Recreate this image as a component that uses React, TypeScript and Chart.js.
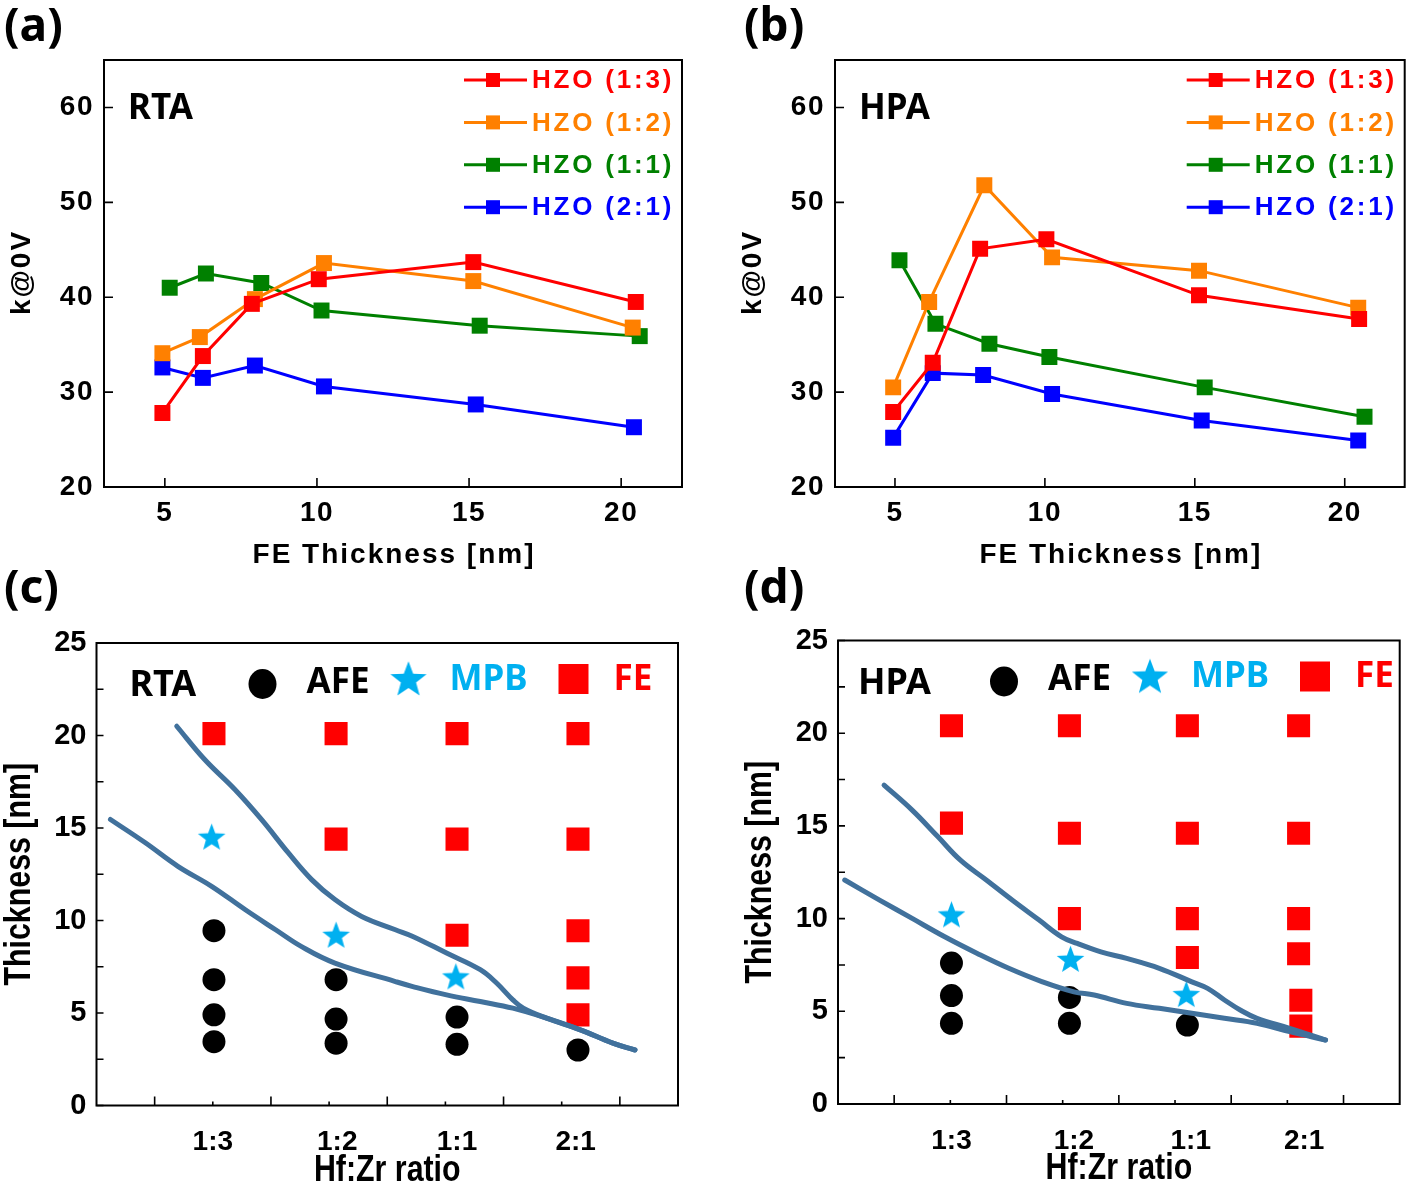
import React, { useEffect, useRef } from 'react';
import { Chart, registerables } from 'chart.js';

Chart.register(...registerables);

// ---------------- shared ----------------
const seriesLabels = ['HZO (1:3)', 'HZO (1:2)', 'HZO (1:1)', 'HZO (2:1)'];
const seriesColors = ['#ff0000', '#ff8000', '#008000', '#0000ff'];
const kTicks = [20, 30, 40, 50, 60];
const thickTicks = [5, 10, 15, 20];

// ---------------- (a) RTA : k@0V vs FE thickness ----------------
const rta13X = [4.92, 6.25, 7.86, 10.06, 15.14, 20.48];
const rta13K = [27.8, 33.8, 39.3, 41.9, 43.7, 39.5];
const rta12X = [4.92, 6.15, 7.96, 10.23, 15.14, 20.38];
const rta12K = [34.1, 35.8, 39.8, 43.6, 41.7, 36.8];
const rta11X = [5.16, 6.35, 8.17, 10.15, 15.35, 20.61];
const rta11K = [41.0, 42.5, 41.5, 38.6, 37.0, 35.9];
const rta21X = [4.92, 6.25, 7.96, 10.23, 15.22, 20.42];
const rta21K = [32.6, 31.5, 32.8, 30.6, 28.7, 26.3];

// ---------------- (b) HPA : k@0V vs FE thickness ----------------
const hpa13X = [4.94, 6.26, 7.84, 10.05, 15.14, 20.48];
const hpa13K = [27.9, 33.1, 45.1, 46.1, 40.2, 37.7];
const hpa12X = [4.94, 6.14, 7.98, 10.24, 15.14, 20.45];
const hpa12K = [30.5, 39.5, 51.8, 44.2, 42.8, 38.9];
const hpa11X = [5.15, 6.35, 8.15, 10.15, 15.33, 20.66];
const hpa11K = [43.9, 37.2, 35.1, 33.7, 30.5, 27.4];
const hpa21X = [4.94, 6.26, 7.94, 10.24, 15.23, 20.45];
const hpa21K = [25.2, 32.0, 31.8, 29.8, 27.0, 24.9];

// ---------------- (c)/(d) phase maps ----------------
const ratioLabels = ['1:3', '1:2', '1:1', '2:1'];
const thicknessTicks = [0, 5, 10, 15, 20, 25];
const thicknessMinor = [2.5, 7.5, 12.5, 17.5, 22.5];
const ratioMajor = [0.5, 1.5, 2.5, 3.5, 4.5];
const ratioMinor = [1, 2, 3, 4];

// (c) RTA
const rtaLabelPos = [1.0, 2.07, 3.1, 4.12];
const rtaAfeX = [1.01, 1.01, 1.01, 1.01, 2.06, 2.06, 2.06, 3.1, 3.1, 4.14];
const rtaAfeY = [9.45, 6.8, 4.9, 3.45, 6.8, 4.67, 3.37, 4.78, 3.31, 3.0];
const rtaMpbX = [0.99, 2.06, 3.09];
const rtaMpbY = [14.5, 9.2, 6.95];
const rtaFeX = [1.01, 2.06, 2.06, 3.1, 3.1, 3.1, 4.14, 4.14, 4.14, 4.14, 4.14];
const rtaFeY = [20.1, 20.1, 14.4, 20.1, 14.4, 9.2, 20.1, 14.4, 9.45, 6.9, 4.9];
const rtaUpperX = [0.69, 0.93, 1.19, 1.42, 1.65, 1.85, 2.05, 2.28, 2.57, 2.72, 3.01, 3.3, 3.44, 3.58, 3.67, 3.87, 4.16, 4.44, 4.63];
const rtaUpperY = [20.5, 18.7, 17.08, 15.45, 13.65, 12.21, 11.13, 10.22, 9.5, 9.14, 8.24, 7.34, 6.62, 5.71, 5.26, 4.72, 4.09, 3.37, 3.0];
const rtaLowerX = [0.12, 0.42, 0.7, 0.99, 1.28, 1.54, 1.76, 2.05, 2.57, 2.72, 3.01, 3.3, 3.58, 3.87, 4.16, 4.44, 4.63];
const rtaLowerY = [15.46, 14.2, 12.93, 11.85, 10.58, 9.5, 8.6, 7.7, 6.7, 6.43, 5.98, 5.62, 5.26, 4.72, 4.09, 3.37, 3.0];

// (d) HPA
const hpaLabelPos = [1.01, 2.1, 3.14, 4.15];
const hpaAfeX = [1.01, 1.01, 1.01, 2.06, 2.06, 3.11];
const hpaAfeY = [7.6, 5.85, 4.35, 5.75, 4.35, 4.26];
const hpaMpbX = [1.01, 2.07, 3.1];
const hpaMpbY = [10.2, 7.8, 5.9];
const hpaFeX = [1.01, 1.01, 2.06, 2.06, 2.06, 3.11, 3.11, 3.11, 3.11, 4.1, 4.1, 4.1, 4.1, 4.12, 4.12];
const hpaFeY = [20.4, 15.15, 20.4, 14.6, 10.0, 20.4, 14.6, 10.0, 7.9, 20.4, 14.6, 10.0, 8.1, 5.6, 4.2];
const hpaUpperX = [0.41, 0.66, 0.89, 1.09, 1.32, 1.55, 1.79, 1.99, 2.13, 2.34, 2.57, 2.86, 3.15, 3.29, 3.44, 3.58, 3.73, 4.02, 4.34];
const hpaUpperY = [17.2, 15.85, 14.41, 13.15, 12.08, 11.0, 9.92, 9.02, 8.66, 8.21, 7.85, 7.32, 6.59, 6.24, 5.61, 5.07, 4.62, 4.08, 3.45];
const hpaLowerX = [0.06, 0.37, 0.66, 0.95, 1.24, 1.52, 1.82, 2.1, 2.28, 2.57, 2.86, 3.15, 3.44, 3.73, 4.02, 4.34];
const hpaLowerY = [12.08, 11.0, 10.01, 9.02, 8.12, 7.32, 6.59, 6.05, 5.88, 5.43, 5.16, 4.89, 4.62, 4.35, 3.9, 3.45];

// ---------------- styling ----------------
const MPB_COLOR = '#00b0f0';
const FE_COLOR = '#ff0000';
const CURVE_COLOR = '#41719c';
const W = 708;

const pts = (xs: number[], ys: number[]) => xs.map((x, i) => ({ x, y: ys[i] }));

function makeStar(size: number, color: string) {
  const c = document.createElement('canvas');
  c.width = size;
  c.height = size;
  const g = c.getContext('2d')!;
  const R = size / 2;
  const r = R * 0.42;
  const cx = size / 2;
  const cy = size / 2 + R * 0.06;
  g.beginPath();
  for (let i = 0; i < 10; i++) {
    const ang = -Math.PI / 2 + (i * Math.PI) / 5;
    const rad = i % 2 === 0 ? R : r;
    g.lineTo(cx + rad * Math.cos(ang), cy + rad * Math.sin(ang));
  }
  g.closePath();
  g.fillStyle = color;
  g.fill();
  return c;
}

type Area = { l: number; t: number; r: number; b: number };

type Deco = {
  letter: string;
  letterPos: [number, number];
  xTitle: string;
  yTitle: string;
  xTitleDy: number;
  yTitleDx: number;
  titleFont: string;
  titleSpacing: number;
  titleSx: number;
  tickSpacing: number;
  yMajor: number[];
  yMinor: number[];
  xMajor: number[];
  xMinor: number[];
  yLen: number;
  xMajorLen: number;
  xMinorLen: number;
  extra: (chart: any) => void;
};

function decoPlugin(d: Deco) {
  return {
    id: 'deco',
    beforeDraw(chart: any) {
      chart.ctx.letterSpacing = d.tickSpacing + 'px';
    },
    afterDraw(chart: any) {
      const { ctx, chartArea: a, scales } = chart;
      ctx.save();
      ctx.letterSpacing = '0px';
      ctx.strokeStyle = '#000';
      ctx.lineWidth = 2;
      ctx.strokeRect(a.left, a.top, a.right - a.left, a.bottom - a.top);
      ctx.lineWidth = 1.6;
      ctx.beginPath();
      [...d.yMajor, ...d.yMinor].forEach((v) => {
        const p = scales.y.getPixelForValue(v);
        ctx.moveTo(a.left, p);
        ctx.lineTo(a.left + d.yLen, p);
      });
      d.xMajor.forEach((v) => {
        const p = scales.x.getPixelForValue(v);
        ctx.moveTo(p, a.bottom);
        ctx.lineTo(p, a.bottom - d.xMajorLen);
      });
      d.xMinor.forEach((v) => {
        const p = scales.x.getPixelForValue(v);
        ctx.moveTo(p, a.bottom);
        ctx.lineTo(p, a.bottom - d.xMinorLen);
      });
      ctx.stroke();

      ctx.fillStyle = '#000';
      ctx.font = d.titleFont;
      ctx.letterSpacing = d.titleSpacing + 'px';
      ctx.textAlign = 'center';
      ctx.textBaseline = 'middle';
      ctx.save();
      ctx.translate((a.left + a.right) / 2 + d.titleSpacing / 2, a.bottom + d.xTitleDy);
      ctx.scale(d.titleSx, 1);
      ctx.fillText(d.xTitle, 0, 0);
      ctx.restore();
      ctx.save();
      ctx.translate(a.left - d.yTitleDx, (a.top + a.bottom) / 2);
      ctx.rotate(-Math.PI / 2);
      ctx.scale(d.titleSx, 1);
      ctx.fillText(d.yTitle, d.titleSpacing / 2, 0);
      ctx.restore();

      ctx.letterSpacing = '0px';
      ctx.font = 'bold 46px "Noto Sans"';
      ctx.textAlign = 'left';
      ctx.fillText(d.letter, d.letterPos[0], d.letterPos[1]);
      d.extra(chart);
      ctx.restore();
    },
  };
}

function lineLegend(tag: string) {
  return (chart: any) => {
    const { ctx, chartArea: a } = chart;
    ctx.save();
    ctx.textAlign = 'left';
    ctx.textBaseline = 'middle';
    ctx.fillStyle = '#000';
    ctx.letterSpacing = '0px';
    ctx.font = 'bold 35px "Noto Sans"';
    ctx.fillText(tag, a.left + 24, a.top + 49);
    seriesLabels.forEach((lab, i) => {
      const y = a.top + 20 + i * 42.4;
      ctx.strokeStyle = seriesColors[i];
      ctx.lineWidth = 3;
      ctx.beginPath();
      ctx.moveTo(a.right - 218, y);
      ctx.lineTo(a.right - 155, y);
      ctx.stroke();
      ctx.fillStyle = seriesColors[i];
      ctx.fillRect(a.right - 196, y - 7, 14, 14);
      ctx.font = 'bold 26px "Liberation Sans"';
      ctx.letterSpacing = '2.8px';
      ctx.fillText(lab, a.right - 150, y + 1);
      ctx.letterSpacing = '0px';
    });
    ctx.restore();
  };
}

function phaseLegend(tag: string, tagDx: number, star: HTMLCanvasElement) {
  return (chart: any) => {
    const { ctx, chartArea: a } = chart;
    const L = a.left;
    const T = a.top;
    ctx.save();
    ctx.textAlign = 'left';
    ctx.textBaseline = 'middle';
    ctx.letterSpacing = '0px';
    ctx.font = 'bold 36px "Noto Sans"';
    ctx.fillStyle = '#000';
    ctx.fillText(tag, L + tagDx, T + 43);
    ctx.font = 'bold 35px "Noto Sans"';
    ctx.beginPath();
    ctx.ellipse(L + 166, T + 41, 14, 15, 0, 0, Math.PI * 2);
    ctx.fill();
    ctx.fillText('AFE', L + 210, T + 40);
    ctx.drawImage(star, L + 312 - star.width / 2, T + 36 - star.height / 2);
    ctx.fillStyle = MPB_COLOR;
    ctx.fillText('MPB', L + 353, T + 37);
    ctx.fillStyle = FE_COLOR;
    ctx.fillRect(L + 477 - 15, T + 36 - 15, 30, 30);
    ctx.fillText('FE', L + 517, T + 37);
    ctx.restore();
  };
}

const kFont = { family: '"Liberation Sans", Arial', weight: 'bold' as const, size: 28 };

function lineConfig(xsArr: number[][], ysArr: number[][], H: number, area: Area, letter: string, tag: string) {
  return {
    type: 'scatter' as const,
    data: {
      datasets: seriesLabels.map((label, i) => ({
        label,
        data: pts(xsArr[i], ysArr[i]),
        showLine: true,
        borderColor: seriesColors[i],
        backgroundColor: seriesColors[i],
        borderWidth: 3,
        pointStyle: 'rect',
        pointRadius: 11.3,
        pointHoverRadius: 11.3,
        pointBorderWidth: 0,
      })),
    },
    options: {
      responsive: false,
      animation: false,
      events: [],
      layout: { padding: { left: 0, top: area.t, right: W - area.r, bottom: 0 } },
      plugins: { legend: { display: false }, tooltip: { enabled: false } },
      scales: {
        x: {
          type: 'linear',
          min: 3,
          max: 22,
          afterBuildTicks: (s: any) => {
            s.ticks = thickTicks.map((v) => ({ value: v }));
          },
          afterFit: (s: any) => {
            s.height = H - area.b;
          },
          grid: { display: false, drawTicks: false },
          border: { display: false },
          ticks: { color: '#000', padding: 9, autoSkip: false, maxRotation: 0, font: kFont },
        },
        y: {
          type: 'linear',
          min: 20,
          max: 65,
          afterBuildTicks: (s: any) => {
            s.ticks = kTicks.map((v) => ({ value: v }));
          },
          afterFit: (s: any) => {
            s.width = area.l;
          },
          grid: { display: false, drawTicks: false },
          border: { display: false },
          ticks: { color: '#000', padding: 10, font: kFont },
        },
      },
    },
    plugins: [
      decoPlugin({
        letter,
        letterPos: letter === '(a)' ? [4, 28] : [744, 28].map((v, i) => (i === 0 ? v - 708 : v)) as [number, number],
        xTitle: 'FE Thickness [nm]',
        yTitle: 'k@0V',
        xTitleDy: 68,
        yTitleDx: 82,
        titleFont: 'bold 28px "Liberation Sans", Arial',
        titleSpacing: 2,
        titleSx: 1,
        tickSpacing: 1.5,
        yMajor: kTicks,
        yMinor: [],
        xMajor: thickTicks,
        xMinor: [],
        yLen: 9,
        xMajorLen: 9,
        xMinorLen: 0,
        extra: lineLegend(tag),
      }),
    ],
  };
}

function phaseConfig(
  H: number,
  area: Area,
  letter: string,
  tag: string,
  tagDx: number,
  labelPos: number[],
  upper: [number[], number[]],
  lower: [number[], number[]],
  fe: [number[], number[]],
  mpb: [number[], number[]],
  afe: [number[], number[]],
  star: HTMLCanvasElement,
  legendStar: HTMLCanvasElement
) {
  const curve = (d: [number[], number[]]) => ({
    data: pts(d[0], d[1]),
    showLine: true,
    borderColor: CURVE_COLOR,
    borderWidth: 5,
    borderCapStyle: 'round',
    borderJoinStyle: 'round',
    tension: 0.4,
    pointRadius: 0,
    pointHoverRadius: 0,
  });
  return {
    type: 'scatter' as const,
    data: {
      datasets: [
        { label: 'upper', ...curve(upper) },
        { label: 'lower', ...curve(lower) },
        {
          label: 'MPB',
          data: pts(mpb[0], mpb[1]),
          pointStyle: star,
          pointRadius: 14,
          backgroundColor: MPB_COLOR,
          borderColor: MPB_COLOR,
        },
        {
          label: 'FE',
          data: pts(fe[0], fe[1]),
          pointStyle: 'rect',
          pointRadius: 16.3,
          pointHoverRadius: 16.3,
          pointBorderWidth: 0,
          backgroundColor: FE_COLOR,
          borderColor: FE_COLOR,
        },
        {
          label: 'AFE',
          data: pts(afe[0], afe[1]),
          pointStyle: 'circle',
          pointRadius: 11.5,
          pointHoverRadius: 11.5,
          pointBorderWidth: 0,
          backgroundColor: '#000',
          borderColor: '#000',
        },
      ],
    },
    options: {
      responsive: false,
      animation: false,
      events: [],
      layout: { padding: { left: 0, top: area.t, right: W - area.r, bottom: 0 } },
      plugins: { legend: { display: false }, tooltip: { enabled: false } },
      scales: {
        x: {
          type: 'linear',
          min: 0,
          max: 5,
          afterBuildTicks: (s: any) => {
            s.ticks = labelPos.map((v) => ({ value: v }));
          },
          afterFit: (s: any) => {
            s.height = H - area.b;
          },
          grid: { display: false, drawTicks: false },
          border: { display: false },
          ticks: {
            color: '#000',
            padding: 20,
            autoSkip: false,
            maxRotation: 0,
            font: { family: '"Liberation Sans Narrow", "Liberation Sans"', weight: 'bold', size: 28 },
            callback: (_v: any, i: number) => ratioLabels[i],
          },
        },
        y: {
          type: 'linear',
          min: 0,
          max: 25,
          afterBuildTicks: (s: any) => {
            s.ticks = thicknessTicks.map((v) => ({ value: v }));
          },
          afterFit: (s: any) => {
            s.width = area.l;
          },
          grid: { display: false, drawTicks: false },
          border: { display: false },
          ticks: { color: '#000', padding: 10, font: { family: '"Liberation Sans", Arial', weight: 'bold', size: 29 } },
        },
      },
    },
    plugins: [
      decoPlugin({
        letter,
        letterPos: letter === '(c)' ? [4, 35] : [36, 35],
        xTitle: 'Hf:Zr ratio',
        yTitle: 'Thickness [nm]',
        xTitleDy: 65,
        yTitleDx: 77,
        titleFont: 'bold 37px "Liberation Sans", Arial',
        titleSpacing: 0,
        titleSx: 0.82,
        tickSpacing: 0,
        yMajor: thicknessTicks,
        yMinor: thicknessMinor,
        xMajor: ratioMajor,
        xMinor: ratioMinor,
        yLen: 7,
        xMajorLen: 9,
        xMinorLen: 4,
        extra: phaseLegend(tag, tagDx, legendStar),
      }),
    ],
  };
}

export default function App() {
  const refA = useRef<HTMLCanvasElement>(null);
  const refB = useRef<HTMLCanvasElement>(null);
  const refC = useRef<HTMLCanvasElement>(null);
  const refD = useRef<HTMLCanvasElement>(null);

  useEffect(() => {
    document.body.style.margin = '0';
    const star = makeStar(29, MPB_COLOR);
    const legendStar = makeStar(38, MPB_COLOR);
    const charts: Chart[] = [];
    charts.push(
      new Chart(
        refA.current!,
        lineConfig([rta13X, rta12X, rta11X, rta21X], [rta13K, rta12K, rta11K, rta21K], 600, { l: 104, t: 60, r: 682, b: 487 }, '(a)', 'RTA') as any
      )
    );
    charts.push(
      new Chart(
        refB.current!,
        lineConfig([hpa13X, hpa12X, hpa11X, hpa21X], [hpa13K, hpa12K, hpa11K, hpa21K], 600, { l: 127, t: 60, r: 705, b: 487 }, '(b)', 'HPA') as any
      )
    );
    charts.push(
      new Chart(
        refC.current!,
        phaseConfig(
          638,
          { l: 96.5, t: 88, r: 678, b: 550.5 },
          '(c)',
          'RTA',
          33,
          rtaLabelPos,
          [rtaUpperX, rtaUpperY],
          [rtaLowerX, rtaLowerY],
          [rtaFeX, rtaFeY],
          [rtaMpbX, rtaMpbY],
          [rtaAfeX, rtaAfeY],
          star,
          legendStar
        ) as any
      )
    );
    charts.push(
      new Chart(
        refD.current!,
        phaseConfig(
          638,
          { l: 130, t: 85.5, r: 705, b: 549 },
          '(d)',
          'HPA',
          20,
          hpaLabelPos,
          [hpaUpperX, hpaUpperY],
          [hpaLowerX, hpaLowerY],
          [hpaFeX, hpaFeY],
          [hpaMpbX, hpaMpbY],
          [hpaAfeX, hpaAfeY],
          star,
          legendStar
        ) as any
      )
    );
    return () => charts.forEach((c) => c.destroy());
  }, []);

  const cs = (left: number, top: number): React.CSSProperties => ({ position: 'absolute', left, top });

  return (
    <div style={{ position: 'absolute', left: 0, top: 0, width: 1416, height: 1193, background: '#fff', overflow: 'hidden' }}>
      <canvas ref={refA} width={708} height={600} style={cs(0, 0)} />
      <canvas ref={refB} width={708} height={600} style={cs(708, 0)} />
      <canvas ref={refC} width={708} height={638} style={cs(0, 555)} />
      <canvas ref={refD} width={708} height={638} style={cs(708, 555)} />
    </div>
  );
}
